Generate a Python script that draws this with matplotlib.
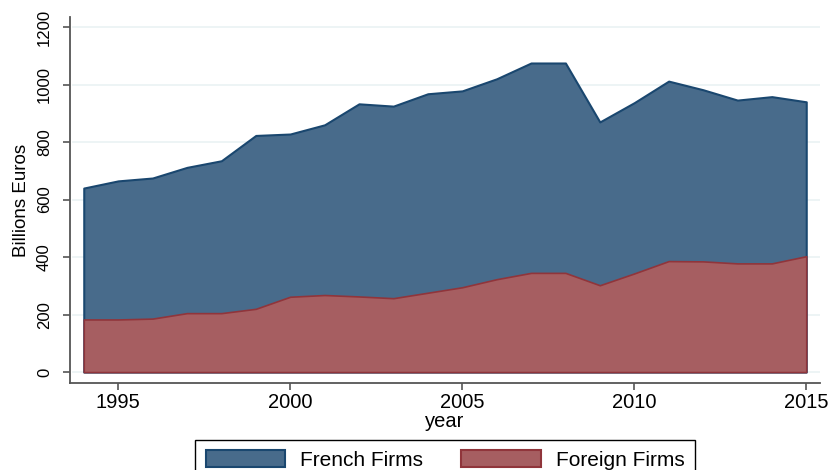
import matplotlib.pyplot as plt
import matplotlib.patches as mpatches

plt.rcParams["font.family"] = ["Liberation Sans", "DejaVu Sans"]

# data
years = list(range(1994, 2016))
total = [640, 665, 675, 712, 735, 823, 828, 860, 933, 925, 968,
         978, 1020, 1075, 1075, 870, 937, 1012, 982, 946, 958, 940]
foreign = [183, 183, 186, 205, 205, 220, 262, 268, 263, 257, 276,
           295, 323, 345, 345, 302, 343, 386, 385, 378, 378, 403]

blue_fill, blue_edge = "#486b8b", "#1a476f"
red_fill, red_edge = "#a65e61", "#90353b"

fig = plt.figure(figsize=(8.32, 4.70), dpi=100)
ax = fig.add_axes([70 / 832, 1 - 383 / 470, 750 / 832, 366 / 470])

# french firms on top of foreign firms
ax.fill_between(years, 0, total, facecolor=blue_fill, edgecolor=blue_edge,
                linewidth=1.5, zorder=2)
ax.fill_between(years, 0, foreign, facecolor=red_fill, edgecolor=red_edge,
                linewidth=1.2, zorder=3)

ax.set_xlim(1993.6, 2015.4)
ax.set_ylim(-38, 1235)
ax.set_yticks(range(0, 1201, 200))
ax.set_xticks(range(1995, 2016, 5))
for yv in range(0, 1201, 200):
    ax.axhline(yv, xmin=0.004, color="#eaf2f3", linewidth=1.2, zorder=1)

for s in ["top", "right"]:
    ax.spines[s].set_visible(False)
for s in ["left", "bottom"]:
    ax.spines[s].set_color("#555555")
    ax.spines[s].set_linewidth(1.3)

ax.tick_params(axis="both", colors="#555555", labelcolor="black",
               length=5, width=1.2)
ax.tick_params(axis="x", labelsize=14.5, pad=2)
ax.tick_params(axis="y", labelsize=12, pad=8)
for lab in ax.get_yticklabels():
    lab.set_rotation(90)
    lab.set_va("center")

ax.set_ylabel("Billions Euros", fontsize=13.5, labelpad=5)
ax.set_xlabel("year", fontsize=14.5, labelpad=0)

handles = [mpatches.Patch(facecolor=blue_fill, edgecolor=blue_edge, linewidth=1.5, label="French Firms"),
           mpatches.Patch(facecolor=red_fill, edgecolor=red_edge, linewidth=1.5, label="Foreign Firms")]
leg = fig.legend(handles=handles, loc="upper center", ncol=2,
                 bbox_to_anchor=(445 / 832, 1 - 440 / 470), borderaxespad=0,
                 fontsize=15, handlelength=3.8, handleheight=0.82,
                 handletextpad=0.72, columnspacing=1.85, borderpad=0.5,
                 fancybox=False, edgecolor="black", framealpha=1)
leg.get_frame().set_linewidth(1.0)

fig.savefig("out.png", dpi=100, facecolor="white")
